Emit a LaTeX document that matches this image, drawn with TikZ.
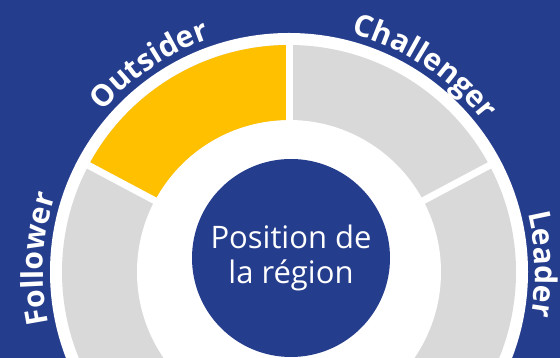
\documentclass[tikz,border=0pt]{standalone}
\usepackage{fontspec}
\setmainfont{Open Sans}
\usetikzlibrary{positioning}
\usetikzlibrary{decorations.text}
\definecolor{regionblue}{RGB}{37,61,141}
\definecolor{outsideryellow}{RGB}{255,192,0}
\definecolor{ringgray}{RGB}{217,217,217}
\tikzset{
    centre disc/.style={
        circle,
        fill=regionblue,
        minimum size=198pt,
        inner sep=0pt,
        text=white,
        align=center,
        font=\fontsize{31}{35}\selectfont
    },
    divider/.style={
        draw=white,
        line width=7pt
    }
}

\begin{document}
\begin{tikzpicture}[x=1pt, y=1pt,
    % Labels written along an arc outside the ring
    ring label/.style={
        decorate,
        decoration={
            text along path,
            text align=center,
            text={|\fontsize{30}{30}\selectfont\bfseries\color{white}|#1}
        }
    }
]

    \useasboundingbox (0,0) rectangle (560,358);
    \clip (0,0) rectangle (560,358);
    \fill[regionblue] (0,0) rectangle (560,358);

    % Ring around the centre
    \coordinate (o) at (289,86);
    \fill[white] (o) circle (239);
    \fill[ringgray] (o) circle (227);
    \fill[white] (o) circle (152);
    \fill[outsideryellow] ([shift={(90:152)}]o) -- ([shift={(90:227)}]o)
        arc[start angle=90, end angle=152, radius=227]
        -- ([shift={(152:152)}]o)
        arc[start angle=152, end angle=90, radius=152] -- cycle;

    % Gaps between the segments
    \foreach \a in {28,90,152} {
        \draw[divider] ([shift={(\a:146)}]o) -- ([shift={(\a:232)}]o);
    }

    % Segment labels
    \path[ring label=Outsider] ([shift={(154:246)}]o) arc[start angle=154, end angle=94, radius=246];
    \path[ring label=Challenger] ([shift={(86.5:246)}]o) arc[start angle=86.5, end angle=26.5, radius=246];
    \path[ring label=Follower] ([shift={(207:246)}]o) arc[start angle=207, end angle=147, radius=246];
    \path[ring label=Leader] ([shift={(31.8:246)}]o) arc[start angle=31.8, end angle=-28.2, radius=246];

    % Centre
    \node[centre disc] (position) at (291,100) {Position de\\la région};

\end{tikzpicture}
\end{document}
